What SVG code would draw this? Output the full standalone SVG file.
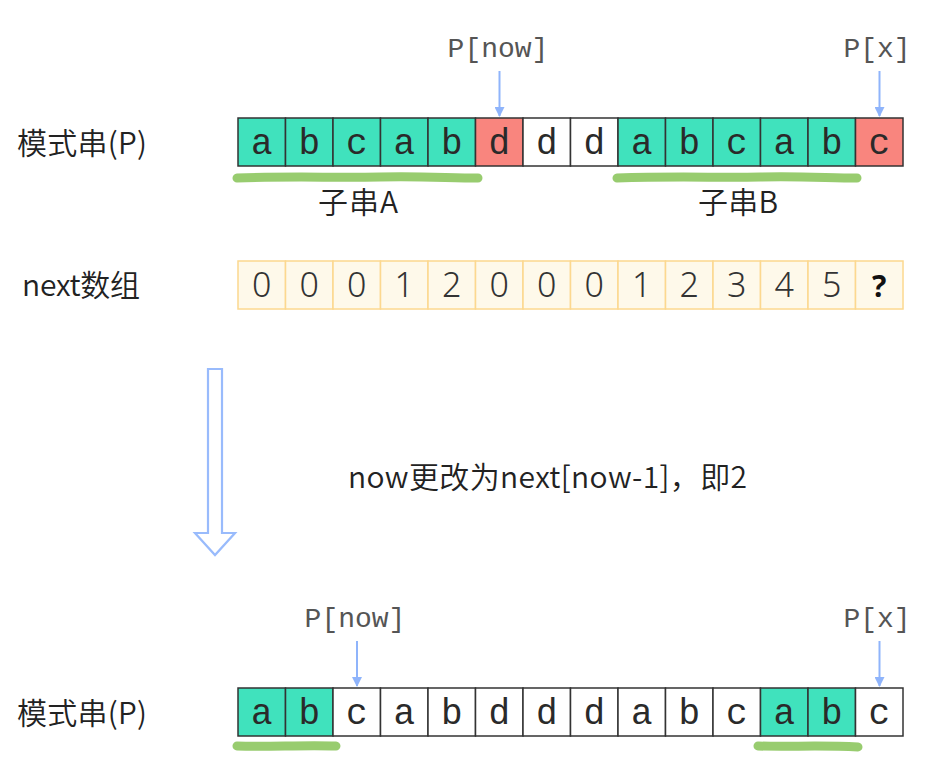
<svg xmlns="http://www.w3.org/2000/svg" width="930" height="777" viewBox="0 0 930 777">
<style>
.cell{stroke:#333;stroke-width:1.5}
.t{fill:#40e2bd}.r{fill:#f9857e}.w{fill:#fff}
.n{fill:#fef9ea;stroke:#fcd88f;stroke-width:1.5}
.ch{font-family:"Liberation Mono",monospace;font-size:36px;fill:#2a2a2a;text-anchor:middle}
.num{font-family:"Noto Sans","Noto Sans CJK SC",sans-serif;font-weight:300;font-size:34px;fill:#333;text-anchor:middle}
.lbl{font-family:"Noto Sans CJK SC",sans-serif;font-weight:350;font-size:30px;fill:#222}
.ptr{font-family:"Liberation Mono",monospace;font-size:28px;fill:#555;text-anchor:middle}
.arr{stroke:#8fb4fb;stroke-width:2;fill:none}
.ul{stroke:#98cc6f;stroke-width:9;stroke-linecap:round;fill:none}
</style>
<defs>
<marker id="ah" viewBox="0 0 10 10" refX="9" refY="5" markerWidth="5" markerHeight="5" orient="auto" markerUnits="strokeWidth">
<path d="M0,0 L10,5 L0,10 z" fill="#8fb4fb"/>
</marker>
</defs>

<g id="label-top"><text class="lbl" x="17" y="154" textLength="130" lengthAdjust="spacing">模式串(P)</text></g>
<g id="label-next"><text class="lbl" x="22" y="296" textLength="118" lengthAdjust="spacing">next数组</text></g>
<g id="label-bottom"><text class="lbl" x="17" y="724" textLength="130" lengthAdjust="spacing">模式串(P)</text></g>

<g id="row-top">
<rect class="cell t" x="238" y="118" width="47.5" height="48"/>
<rect class="cell t" x="285.5" y="118" width="47.5" height="48"/>
<rect class="cell t" x="333" y="118" width="47.5" height="48"/>
<rect class="cell t" x="380.5" y="118" width="47.5" height="48"/>
<rect class="cell t" x="428" y="118" width="47.5" height="48"/>
<rect class="cell r" x="475.5" y="118" width="47.5" height="48"/>
<rect class="cell w" x="523" y="118" width="47.5" height="48"/>
<rect class="cell w" x="570.5" y="118" width="47.5" height="48"/>
<rect class="cell t" x="618" y="118" width="47.5" height="48"/>
<rect class="cell t" x="665.5" y="118" width="47.5" height="48"/>
<rect class="cell t" x="713" y="118" width="47.5" height="48"/>
<rect class="cell t" x="760.5" y="118" width="47.5" height="48"/>
<rect class="cell t" x="808" y="118" width="47.5" height="48"/>
<rect class="cell r" x="855.5" y="118" width="47.5" height="48"/>
<text class="ch" x="261.75" y="154">a</text>
<text class="ch" x="309.25" y="154">b</text>
<text class="ch" x="356.75" y="154">c</text>
<text class="ch" x="404.25" y="154">a</text>
<text class="ch" x="451.75" y="154">b</text>
<text class="ch" x="499.25" y="154">d</text>
<text class="ch" x="546.75" y="154">d</text>
<text class="ch" x="594.25" y="154">d</text>
<text class="ch" x="641.75" y="154">a</text>
<text class="ch" x="689.25" y="154">b</text>
<text class="ch" x="736.75" y="154">c</text>
<text class="ch" x="784.25" y="154">a</text>
<text class="ch" x="831.75" y="154">b</text>
<text class="ch" x="879.25" y="154">c</text>
</g>

<g id="row-next">
<rect class="n" x="238" y="261" width="47.5" height="48"/>
<rect class="n" x="285.5" y="261" width="47.5" height="48"/>
<rect class="n" x="333" y="261" width="47.5" height="48"/>
<rect class="n" x="380.5" y="261" width="47.5" height="48"/>
<rect class="n" x="428" y="261" width="47.5" height="48"/>
<rect class="n" x="475.5" y="261" width="47.5" height="48"/>
<rect class="n" x="523" y="261" width="47.5" height="48"/>
<rect class="n" x="570.5" y="261" width="47.5" height="48"/>
<rect class="n" x="618" y="261" width="47.5" height="48"/>
<rect class="n" x="665.5" y="261" width="47.5" height="48"/>
<rect class="n" x="713" y="261" width="47.5" height="48"/>
<rect class="n" x="760.5" y="261" width="47.5" height="48"/>
<rect class="n" x="808" y="261" width="47.5" height="48"/>
<rect class="n" x="855.5" y="261" width="47.5" height="48"/>
<text class="num" x="261.75" y="297">0</text>
<text class="num" x="309.25" y="297">0</text>
<text class="num" x="356.75" y="297">0</text>
<text class="num" x="404.25" y="297">1</text>
<text class="num" x="451.75" y="297">2</text>
<text class="num" x="499.25" y="297">0</text>
<text class="num" x="546.75" y="297">0</text>
<text class="num" x="594.25" y="297">0</text>
<text class="num" x="641.75" y="297">1</text>
<text class="num" x="689.25" y="297">2</text>
<text class="num" x="736.75" y="297">3</text>
<text class="num" x="784.25" y="297">4</text>
<text class="num" x="831.75" y="297">5</text>
<text class="num" x="879.25" y="297" style="font-weight:700;fill:#111;font-size:30px">?</text>
</g>

<g id="row-bottom">
<rect class="cell t" x="238" y="688" width="47.5" height="48"/>
<rect class="cell t" x="285.5" y="688" width="47.5" height="48"/>
<rect class="cell w" x="333" y="688" width="47.5" height="48"/>
<rect class="cell w" x="380.5" y="688" width="47.5" height="48"/>
<rect class="cell w" x="428" y="688" width="47.5" height="48"/>
<rect class="cell w" x="475.5" y="688" width="47.5" height="48"/>
<rect class="cell w" x="523" y="688" width="47.5" height="48"/>
<rect class="cell w" x="570.5" y="688" width="47.5" height="48"/>
<rect class="cell w" x="618" y="688" width="47.5" height="48"/>
<rect class="cell w" x="665.5" y="688" width="47.5" height="48"/>
<rect class="cell w" x="713" y="688" width="47.5" height="48"/>
<rect class="cell t" x="760.5" y="688" width="47.5" height="48"/>
<rect class="cell t" x="808" y="688" width="47.5" height="48"/>
<rect class="cell w" x="855.5" y="688" width="47.5" height="48"/>
<text class="ch" x="261.75" y="724">a</text>
<text class="ch" x="309.25" y="724">b</text>
<text class="ch" x="356.75" y="724">c</text>
<text class="ch" x="404.25" y="724">a</text>
<text class="ch" x="451.75" y="724">b</text>
<text class="ch" x="499.25" y="724">d</text>
<text class="ch" x="546.75" y="724">d</text>
<text class="ch" x="594.25" y="724">d</text>
<text class="ch" x="641.75" y="724">a</text>
<text class="ch" x="689.25" y="724">b</text>
<text class="ch" x="736.75" y="724">c</text>
<text class="ch" x="784.25" y="724">a</text>
<text class="ch" x="831.75" y="724">b</text>
<text class="ch" x="879.25" y="724">c</text>
</g>

<g id="pointers">
<text class="ptr" x="498" y="57">P[now]</text>
<text class="ptr" x="877" y="57">P[x]</text>
<text class="ptr" x="355" y="627">P[now]</text>
<text class="ptr" x="877" y="627">P[x]</text>
</g>

<g id="connectors">
<line class="arr" x1="499.5" y1="71" x2="499.5" y2="116" marker-end="url(#ah)"/>
<line class="arr" x1="879.5" y1="71" x2="879.5" y2="116" marker-end="url(#ah)"/>
<line class="arr" x1="357" y1="641" x2="357" y2="686" marker-end="url(#ah)"/>
<line class="arr" x1="879.5" y1="641" x2="879.5" y2="686" marker-end="url(#ah)"/>
<path id="big-arrow" d="M208,369 L222,369 L222,533 L235,533 L215,555 L195,533 L208,533 Z" fill="#fff" stroke="#99bbfc" stroke-width="2.2" stroke-linejoin="miter"/>
</g>

<g id="underlines">
<path class="ul" d="M237,178 C300,176 330,178 380,177 C420,176 450,178 478,178"/>
<path class="ul" d="M617,178 C680,176 720,178 760,177 C800,176 830,178 857,178"/>
<path class="ul" d="M237,746 C270,747 300,745 336,746"/>
<path class="ul" d="M758,746 C790,747 820,745 858,747"/>
</g>

<g id="sublabels">
<text class="lbl" x="318" y="213" textLength="80" lengthAdjust="spacing">子串A</text>
<text class="lbl" x="698" y="213" textLength="80" lengthAdjust="spacing">子串B</text>
</g>

<g id="caption">
<text class="lbl" x="348" y="488" textLength="399" lengthAdjust="spacing">now更改为next[now-1]，即2</text>
</g>
</svg>
